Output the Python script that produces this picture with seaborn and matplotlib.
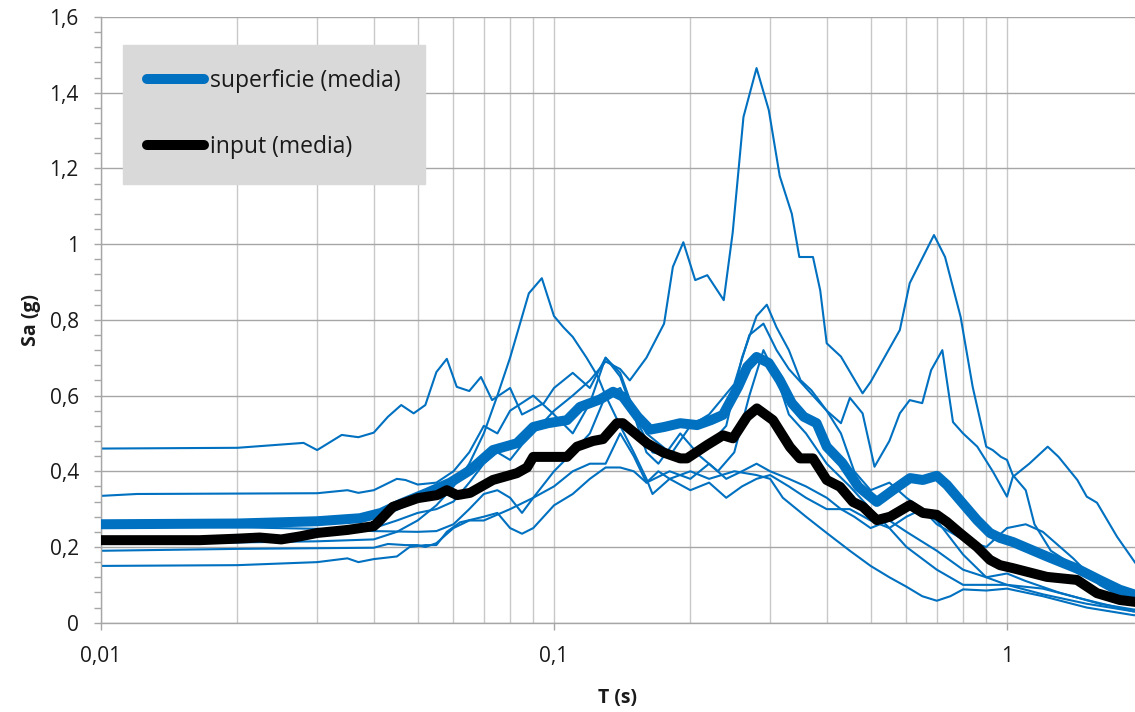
import matplotlib
matplotlib.use("Agg")
import matplotlib.pyplot as plt
import numpy as np
import seaborn as sns
from matplotlib.ticker import MultipleLocator, LogLocator, FixedLocator, FuncFormatter, NullFormatter

# ---- mean spectra -------------------------------------------------------
surf_mean_T = [0.01, 0.02, 0.03, 0.0373, 0.0415, 0.046, 0.0524, 0.059, 0.0653, 0.0733,
               0.0828, 0.09, 0.097, 0.1068, 0.1141, 0.1264, 0.135, 0.1419, 0.153, 0.163,
               0.175, 0.19, 0.207, 0.222, 0.236, 0.255, 0.267, 0.28, 0.298, 0.315,
               0.335, 0.356, 0.38, 0.4, 0.433, 0.47, 0.516, 0.56, 0.611, 0.652,
               0.7, 0.737, 0.787, 0.859, 0.917, 0.965, 1.031, 1.225, 1.427, 1.6,
               1.775, 1.917, 2.0]
surf_mean_Sa = [0.26, 0.262, 0.268, 0.276, 0.29, 0.315, 0.343, 0.37, 0.403, 0.456,
                0.474, 0.517, 0.527, 0.535, 0.57, 0.59, 0.61, 0.597, 0.544, 0.51,
                0.517, 0.527, 0.522, 0.535, 0.549, 0.623, 0.676, 0.702, 0.686, 0.641,
                0.58, 0.544, 0.527, 0.465, 0.422, 0.359, 0.319, 0.35, 0.382, 0.377,
                0.388, 0.364, 0.324, 0.271, 0.237, 0.224, 0.213, 0.175, 0.143, 0.113,
                0.087, 0.074, 0.07]

input_mean_T = [0.01, 0.0165, 0.02, 0.0224, 0.025, 0.0275, 0.03, 0.035, 0.04, 0.0407,
                0.0441, 0.05, 0.0552, 0.058, 0.0611, 0.0653, 0.0733, 0.0828, 0.0872, 0.09,
                0.1068, 0.1124, 0.1219, 0.1283, 0.1377, 0.1419, 0.1605, 0.174, 0.19, 0.1966,
                0.2176, 0.2361, 0.2484, 0.2667, 0.2805, 0.3044, 0.3318, 0.349, 0.3729, 0.4,
                0.428, 0.457, 0.481, 0.516, 0.552, 0.611, 0.652, 0.7, 0.737, 0.787,
                0.859, 0.917, 0.965, 1.031, 1.225, 1.427, 1.58, 1.775, 1.917, 2.0]
input_mean_Sa = [0.218, 0.218, 0.222, 0.225, 0.22, 0.228, 0.237, 0.245, 0.255, 0.263,
                 0.306, 0.329, 0.337, 0.35, 0.337, 0.343, 0.377, 0.395, 0.41, 0.438,
                 0.438, 0.465, 0.48, 0.485, 0.527, 0.527, 0.474, 0.45, 0.434, 0.434,
                 0.469, 0.495, 0.487, 0.544, 0.566, 0.535, 0.464, 0.434, 0.434, 0.377,
                 0.359, 0.319, 0.306, 0.271, 0.28, 0.311, 0.29, 0.285, 0.266, 0.237,
                 0.2, 0.166, 0.152, 0.144, 0.121, 0.113, 0.078, 0.06, 0.055, 0.052]

# ---- single surface spectra (7 records) ---------------------------------
rec1_T = [0.01, 0.02, 0.028, 0.03, 0.034, 0.037, 0.04, 0.043, 0.046, 0.049,
          0.052, 0.055, 0.058, 0.061, 0.065, 0.069, 0.073, 0.08, 0.085, 0.095,
          0.1, 0.11, 0.12, 0.13, 0.14, 0.15, 0.165, 0.18, 0.2, 0.22,
          0.25, 0.27, 0.29, 0.31, 0.33, 0.36, 0.4, 0.43, 0.46, 0.5,
          0.55, 0.6, 0.65, 0.7, 0.8, 0.9, 1.0, 1.1, 1.2, 1.4,
          1.6, 1.9, 2.0]
rec1_Sa = [0.46, 0.462, 0.475, 0.456, 0.496, 0.49, 0.502, 0.544, 0.575, 0.553,
           0.575, 0.662, 0.697, 0.623, 0.612, 0.649, 0.588, 0.62, 0.55, 0.58,
           0.62, 0.66, 0.62, 0.70, 0.65, 0.55, 0.45, 0.44, 0.52, 0.55,
           0.63, 0.76, 0.79, 0.72, 0.67, 0.62, 0.56, 0.5, 0.4, 0.35,
           0.37, 0.33, 0.3, 0.26, 0.22, 0.2, 0.25, 0.26, 0.24, 0.17,
           0.1, 0.05, 0.045]

rec2_T = [0.01, 0.012, 0.03, 0.035, 0.037, 0.04, 0.045, 0.047, 0.05, 0.055,
          0.06, 0.065, 0.07, 0.075, 0.08, 0.09, 0.1, 0.11, 0.12, 0.13,
          0.14, 0.15, 0.16, 0.18, 0.2, 0.22, 0.24, 0.26, 0.28, 0.295,
          0.31, 0.33, 0.35, 0.37, 0.4, 0.43, 0.45, 0.48, 0.51, 0.55,
          0.58, 0.61, 0.65, 0.68, 0.72, 0.76, 0.8, 0.86, 0.93, 1.0,
          1.03, 1.12, 1.23, 1.3, 1.43, 1.5, 1.58, 1.75, 1.92, 2.0]
rec2_Sa = [0.335, 0.34, 0.342, 0.35, 0.343, 0.35, 0.38, 0.377, 0.365, 0.37,
           0.4, 0.45, 0.52, 0.5, 0.56, 0.6, 0.55, 0.5, 0.58, 0.70,
           0.66, 0.56, 0.5, 0.45, 0.43, 0.47, 0.52, 0.7, 0.81, 0.84,
           0.78, 0.72, 0.641, 0.614, 0.56, 0.527, 0.594, 0.553, 0.412, 0.48,
           0.553, 0.588, 0.58, 0.667, 0.72, 0.53, 0.5, 0.465, 0.4, 0.333,
           0.385, 0.42, 0.465, 0.438, 0.377, 0.333, 0.317, 0.227, 0.158, 0.14]

rec3_T = [0.01, 0.02, 0.03, 0.04, 0.05, 0.055, 0.06, 0.065, 0.07, 0.075,
          0.08, 0.085, 0.09, 0.1, 0.11, 0.12, 0.13, 0.14, 0.15, 0.16,
          0.17, 0.19, 0.21, 0.23, 0.25, 0.27, 0.29, 0.31, 0.33, 0.36,
          0.4, 0.45, 0.5, 0.55, 0.6, 0.65, 0.7, 0.8, 0.9, 1.0,
          1.2, 1.5, 1.9, 2.0]
rec3_Sa = [0.255, 0.252, 0.248, 0.242, 0.24, 0.242, 0.26, 0.3, 0.34, 0.35,
           0.33, 0.29, 0.33, 0.4, 0.45, 0.5, 0.6, 0.62, 0.55, 0.45,
           0.42, 0.5, 0.44, 0.4, 0.45, 0.6, 0.72, 0.65, 0.55, 0.5,
           0.42, 0.36, 0.3, 0.25, 0.28, 0.3, 0.27, 0.18, 0.12, 0.1,
           0.09, 0.06, 0.03, 0.028]

rec4_T = [0.01, 0.02, 0.03, 0.04, 0.045, 0.05, 0.055, 0.06, 0.065, 0.07,
          0.075, 0.08, 0.085, 0.09, 0.1, 0.11, 0.12, 0.13, 0.14, 0.147,
          0.16, 0.175, 0.183, 0.193, 0.205, 0.218, 0.237, 0.248, 0.262, 0.28,
          0.298, 0.315, 0.335, 0.348, 0.373, 0.387, 0.4, 0.43, 0.48, 0.5,
          0.58, 0.61, 0.69, 0.73, 0.79, 0.84, 0.9, 0.93, 0.97, 1.0,
          1.03, 1.1, 1.15, 1.25, 1.45, 1.7, 1.92, 2.0]
rec4_Sa = [0.22, 0.222, 0.23, 0.25, 0.27, 0.29, 0.3, 0.32, 0.37, 0.42,
           0.45, 0.43, 0.47, 0.5, 0.56, 0.6, 0.64, 0.69, 0.67, 0.64,
           0.7, 0.79, 0.94, 1.005, 0.905, 0.918, 0.852, 1.03, 1.336, 1.465,
           1.354, 1.18, 1.08, 0.966, 0.966, 0.878, 0.738, 0.703, 0.606, 0.636,
           0.773, 0.897, 1.024, 0.966, 0.808, 0.623, 0.465, 0.456, 0.438, 0.43,
           0.39, 0.35, 0.26, 0.19, 0.14, 0.09, 0.06, 0.055]

rec5_T = [0.01, 0.02, 0.03, 0.04, 0.045, 0.05, 0.055, 0.06, 0.065, 0.07,
          0.075, 0.08, 0.088, 0.094, 0.1, 0.105, 0.11, 0.118, 0.125, 0.13,
          0.14, 0.15, 0.16, 0.165, 0.18, 0.2, 0.22, 0.24, 0.26, 0.28,
          0.3, 0.33, 0.36, 0.4, 0.45, 0.5, 0.55, 0.6, 0.7, 0.8,
          0.9, 1.0, 1.2, 1.5, 1.9, 2.0]
rec5_Sa = [0.21, 0.212, 0.215, 0.22, 0.24, 0.27, 0.31, 0.36, 0.42, 0.5,
           0.6, 0.7, 0.87, 0.91, 0.81, 0.78, 0.755, 0.7, 0.65, 0.6,
           0.52, 0.45, 0.38, 0.34, 0.38, 0.35, 0.37, 0.33, 0.36, 0.38,
           0.39, 0.36, 0.33, 0.3, 0.3, 0.27, 0.25, 0.2, 0.14, 0.1,
           0.1, 0.1, 0.075, 0.05, 0.03, 0.028]

rec6_T = [0.01, 0.02, 0.04, 0.043, 0.047, 0.05, 0.052, 0.055, 0.06, 0.065,
          0.07, 0.08, 0.09, 0.1, 0.11, 0.12, 0.13, 0.14, 0.15, 0.16,
          0.18, 0.2, 0.22, 0.24, 0.26, 0.28, 0.3, 0.33, 0.36, 0.4,
          0.43, 0.46, 0.5, 0.55, 0.6, 0.7, 0.8, 0.9, 1.0, 1.1,
          1.3, 1.6, 1.9, 2.0]
rec6_Sa = [0.19, 0.195, 0.198, 0.208, 0.205, 0.205, 0.2, 0.21, 0.25, 0.27,
           0.27, 0.3, 0.33, 0.36, 0.4, 0.42, 0.42, 0.5, 0.44, 0.37,
           0.4, 0.38, 0.42, 0.38, 0.4, 0.42, 0.4, 0.38, 0.36, 0.33,
           0.3, 0.28, 0.25, 0.27, 0.24, 0.19, 0.14, 0.12, 0.13, 0.11,
           0.08, 0.05, 0.035, 0.033]

rec7_T = [0.01, 0.02, 0.03, 0.035, 0.037, 0.04, 0.045, 0.048, 0.052, 0.055,
          0.058, 0.062, 0.07, 0.075, 0.08, 0.085, 0.09, 0.1, 0.11, 0.12,
          0.13, 0.14, 0.15, 0.16, 0.17, 0.18, 0.2, 0.22, 0.25, 0.28,
          0.3, 0.32, 0.36, 0.4, 0.45, 0.5, 0.55, 0.6, 0.65, 0.7,
          0.75, 0.8, 0.9, 1.0, 1.2, 1.5, 1.9, 2.0]
rec7_Sa = [0.15, 0.152, 0.16, 0.17, 0.16, 0.168, 0.175, 0.2, 0.205, 0.205,
           0.24, 0.265, 0.28, 0.29, 0.25, 0.235, 0.25, 0.31, 0.34, 0.38,
           0.41, 0.41, 0.40, 0.37, 0.4, 0.38, 0.40, 0.38, 0.4, 0.39,
           0.38, 0.33, 0.28, 0.237, 0.19, 0.15, 0.12, 0.095, 0.07, 0.058,
           0.07, 0.088, 0.085, 0.09, 0.07, 0.04, 0.02, 0.018]

records = [(rec1_T, rec1_Sa), (rec2_T, rec2_Sa), (rec3_T, rec3_Sa), (rec4_T, rec4_Sa),
           (rec5_T, rec5_Sa), (rec6_T, rec6_Sa), (rec7_T, rec7_Sa)]

legend_labels = ["superficie (media)", "input (media)"]
x_ticks = [0.01, 0.1, 1]

# ---- style ---------------------------------------------------------------
sns.set_theme(style="white")
plt.rcParams["font.family"] = ["Open Sans", "DejaVu Sans"]

BLUE = "#0070C0"
GRID_H = "#A6A6A6"
GRID_V = "#C8C8C8"
TEXT = "#1a1a1a"

W, H = 1135, 712
fig = plt.figure(figsize=(W / 100, H / 100), dpi=100)
ax = fig.add_axes([101 / W, (H - 622.7) / H, 1034 / W, 605.7 / H])

for T, Sa in records:
    sns.lineplot(x=T, y=Sa, ax=ax, color=BLUE, linewidth=1.5,
                 estimator=None, sort=False, zorder=2)

sns.lineplot(x=surf_mean_T, y=surf_mean_Sa, ax=ax, color=BLUE, linewidth=7.2,
             estimator=None, sort=False, zorder=3, label=legend_labels[0])
sns.lineplot(x=input_mean_T, y=input_mean_Sa, ax=ax, color="black", linewidth=7.2,
             estimator=None, sort=False, zorder=4, label=legend_labels[1])

mean_lines = ax.lines[-2:]
for ln in mean_lines:
    ln.set_solid_capstyle("round")
    ln.set_solid_joinstyle("round")

# ---- axes ----------------------------------------------------------------
ax.set_xscale("log")
ax.set_xlim(0.01, 1.917)
ax.set_ylim(0, 1.6)

ax.xaxis.set_major_locator(FixedLocator(x_ticks))
ax.xaxis.set_minor_locator(LogLocator(base=10, subs=np.arange(2, 10) * 1.0, numticks=20))
ax.xaxis.set_minor_formatter(NullFormatter())
ax.yaxis.set_major_locator(MultipleLocator(0.2))
ax.yaxis.set_minor_locator(MultipleLocator(0.04))

comma = FuncFormatter(lambda v, pos: f"{v:g}".replace(".", ","))
ax.xaxis.set_major_formatter(comma)
ax.yaxis.set_major_formatter(comma)

ax.grid(which="major", axis="y", color=GRID_H, linewidth=1.0, zorder=0)
ax.grid(which="both", axis="x", color=GRID_V, linewidth=1.0, zorder=0)
ax.set_axisbelow(True)

for side in ("top", "right"):
    ax.spines[side].set_visible(False)
for side in ("left", "bottom"):
    ax.spines[side].set_color(GRID_H)
    ax.spines[side].set_linewidth(1.0)

ax.tick_params(axis="y", which="both", left=True, direction="out", length=5,
               width=1.0, color=GRID_H)
ax.tick_params(axis="y", which="major", labelsize=15, labelcolor=TEXT, pad=11)
ax.tick_params(axis="x", which="minor", bottom=False, length=0)
ax.tick_params(axis="x", which="major", bottom=True, direction="out", length=5,
               width=1.0, color=GRID_H, labelsize=15, labelcolor=TEXT, pad=12)

ax.set_ylabel("Sa (g)", fontsize=14, fontweight="bold", color=TEXT)
ax.set_xlabel("T (s)", fontsize=14, fontweight="bold", color=TEXT)
ax.yaxis.set_label_coords(-0.058, 0.5)
ax.xaxis.set_label_coords(0.5, -0.108)

# ---- legend --------------------------------------------------------------
leg = ax.legend(handles=mean_lines, labels=legend_labels, loc="upper left",
                bbox_to_anchor=((123 - 101) / 1034, (622.7 - 45) / 605.7),
                fontsize=16.5, frameon=True, fancybox=False, framealpha=1,
                facecolor="#D9D9D9", edgecolor="#D9D9D9",
                handlelength=2.5, handletextpad=0.25, labelspacing=1.85,
                borderpad=1.05, borderaxespad=0)
for t in leg.get_texts():
    t.set_color(TEXT)
for ln in leg.get_lines():
    ln.set_solid_capstyle("round")
    ln.set_linewidth(7.2)

fig.savefig("out.png", dpi=100)
